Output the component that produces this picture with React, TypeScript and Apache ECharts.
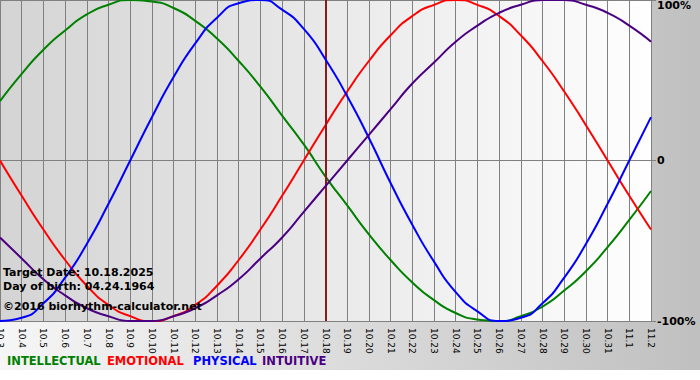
import React, { useEffect, useRef } from "react";
import * as echarts from "echarts";

const categories = [
  "10.3", "10.4", "10.5", "10.6", "10.7", "10.8", "10.9", "10.10", "10.11", "10.12",
  "10.13", "10.14", "10.15", "10.16", "10.17", "10.18", "10.19", "10.20", "10.21", "10.22",
  "10.23", "10.24", "10.25", "10.26", "10.27", "10.28", "10.29", "10.30", "10.31", "11.1", "11.2",
];

const intellectual = [0.37, 0.54, 0.69, 0.81, 0.91, 0.97, 1.0, 0.99, 0.95, 0.87, 0.76, 0.62, 0.46, 0.28, 0.1, -0.1, -0.28, -0.46, -0.62, -0.76, -0.87, -0.95, -0.99, -1.0, -0.97, -0.91, -0.81, -0.69, -0.54, -0.37, -0.19];
const emotional = [0, -0.22, -0.43, -0.62, -0.78, -0.9, -0.97, -1.0, -0.97, -0.9, -0.78, -0.62, -0.43, -0.22, 0, 0.22, 0.43, 0.62, 0.78, 0.9, 0.97, 1.0, 0.97, 0.9, 0.78, 0.62, 0.43, 0.22, 0, -0.22, -0.43];
const physical = [-1.0, -0.98, -0.89, -0.73, -0.52, -0.27, 0, 0.27, 0.52, 0.73, 0.89, 0.98, 1.0, 0.94, 0.82, 0.63, 0.4, 0.14, -0.14, -0.4, -0.63, -0.82, -0.94, -1.0, -0.98, -0.89, -0.73, -0.52, -0.27, 0, 0.27];
const intuitive = [-0.48, -0.61, -0.74, -0.84, -0.92, -0.97, -1.0, -1.0, -0.97, -0.92, -0.84, -0.74, -0.61, -0.48, -0.32, -0.16, 0, 0.16, 0.32, 0.48, 0.61, 0.74, 0.84, 0.92, 0.97, 1.0, 1.0, 0.97, 0.92, 0.84, 0.74];

const seriesNames = ["INTELLECTUAL", "EMOTIONAL", "PHYSICAL", "INTUITIVE"];
const seriesColors = ["#008000", "#ff0000", "#0000ff", "#4b0082"];
const targetDate = "10.18";
const infoLines = ["Target Date: 10.18.2025", "Day of birth: 04.24.1964", "\u00a92016 biorhythm-calculator.net"];

export default function App() {
  const ref = useRef<HTMLDivElement>(null);
  useEffect(() => {
    if (!ref.current) return;
    const chart = echarts.init(ref.current, null, { renderer: "svg" });
    const font = "DejaVu Sans, Verdana, sans-serif";
    const dataSets = [intellectual, emotional, physical, intuitive];
    const legendX = [7, 107, 193, 262];
    chart.setOption({
      animation: false,
      backgroundColor: new echarts.graphic.LinearGradient(0, 0, 1, 0, [
        { offset: 0, color: "#f6f6f6" },
        { offset: 1, color: "#c0c0c0" },
      ]),
      grid: {
        left: 0,
        right: 49,
        top: 0,
        bottom: 49,
        containLabel: false,
        outerBoundsMode: "none",
        show: true,
        borderWidth: 0,
        backgroundColor: new echarts.graphic.LinearGradient(0, 0, 1, 0, [
          { offset: 0, color: "#d4d4d4" },
          { offset: 1, color: "#fefefe" },
        ]),
      },
      xAxis: {
        type: "category",
        data: categories,
        boundaryGap: false,
        axisLine: { show: true, lineStyle: { color: "#808080", width: 1 } },
        axisTick: { show: true, length: 6, interval: 0, lineStyle: { color: "#808080" } },
        splitLine: { show: true, interval: 0, lineStyle: { color: "#808080", width: 1 } },
        axisLabel: {
          interval: 0,
          rotate: -90,
          margin: 7,
          color: "#000",
          fontSize: 9,
          fontFamily: font,
        },
      },
      yAxis: {
        type: "value",
        position: "right",
        min: -1,
        max: 1,
        interval: 1,
        axisLine: { show: false },
        axisTick: { show: true, length: 5, lineStyle: { color: "#808080" } },
        splitLine: { show: true, lineStyle: { color: "#808080", width: 1 } },
        axisLabel: {
          margin: 6,
          color: "#000",
          fontSize: 11,
          fontWeight: "bold",
          fontFamily: font,
          verticalAlignMaxLabel: "top",
          formatter: (v: number) => (v === 0 ? "0" : Math.round(v * 100) + "%"),
        },
      },
      series: dataSets.map((d, i) => ({
        name: seriesNames[i],
        type: "line",
        data: d,
        smooth: 0.6,
        symbol: "none",
        lineStyle: { color: seriesColors[i], width: 2 },
        itemStyle: { color: seriesColors[i] },
        z: 3 + i,
        markLine:
          i === 0
            ? {
                silent: true,
                symbol: ["none", "none"],
                label: { show: false },
                lineStyle: { color: "#8b1a1a", width: 2, type: "solid" },
                data: [{ xAxis: targetDate }],
              }
            : undefined,
      })),
      graphic: [
        ...infoLines.map((t, i) => ({
          type: "text",
          left: 3,
          top: [267, 281, 301][i],
          z: 100,
          style: {
            text: t,
            fill: "#000",
            font: "bold 11px " + font,
          },
        })),
        ...seriesNames.map((n, i) => ({
          type: "text",
          left: legendX[i],
          top: 355,
          z: 100,
          style: {
            text: n,
            fill: seriesColors[i],
            font: "bold 11.5px " + font,
          },
        })),
      ],
    });
    return () => chart.dispose();
  }, []);
  return (
    <div
      ref={ref}
      style={{ position: "absolute", left: 0, top: 0, width: 700, height: 370 }}
    />
  );
}
